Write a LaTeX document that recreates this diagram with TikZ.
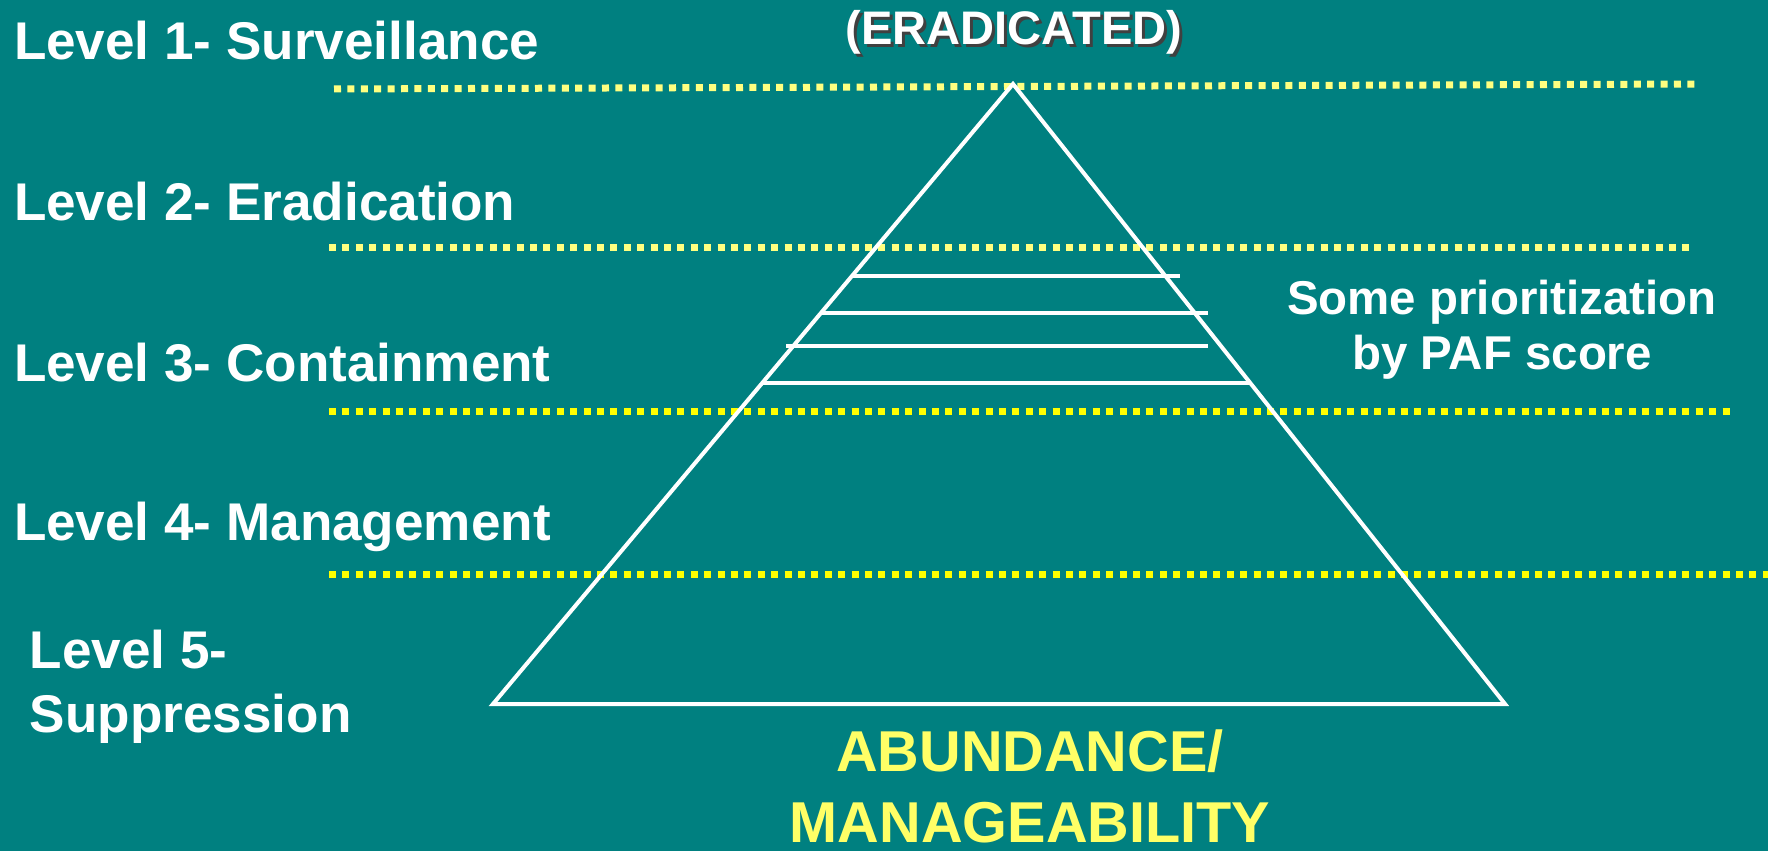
\documentclass[tikz,border=0pt]{standalone}
\usepackage{fontspec}
\setmainfont{Liberation Sans}
\usepackage{tikz}
\usetikzlibrary{positioning}
\definecolor{slidebg}{RGB}{0,128,128}
\definecolor{paleyellow}{RGB}{255,255,128}
\definecolor{dotyellow}{RGB}{255,255,0}
\definecolor{titleyellow}{RGB}{255,255,102}

\begin{document}
\begin{tikzpicture}[
    x=0.1mm, y=-0.1mm,
    every node/.style={inner sep=0pt, outer sep=0pt, text=white},
    levellabel/.style={anchor=base west, align=left,
        font=\fontsize{15.1}{18.2}\selectfont\bfseries},
    sidenote/.style={anchor=base, align=center,
        font=\fontsize{13.5}{15.4}\selectfont\bfseries},
    axislabel/.style={anchor=base, align=center, text=titleyellow,
        font=\fontsize{16.4}{20.2}\selectfont\bfseries},
    % dotted line between two levels
    levelsep/.style={line width=0.7mm, dash pattern=on 0.7mm off 0.64mm},
    pyrline/.style={draw=white, line width=0.4mm}
    ]
    % background of the slide
    \fill[slidebg] (0,0) rectangle (1768,851);
    \useasboundingbox (0,0) rectangle (1768,851);

    % level names on the left (base = last line)
    \node[levellabel] (lvl1) at (14,60) {Level 1- Surveillance};
    \node[levellabel] (lvl2) at (14,220) {Level 2- Eradication};
    \node[levellabel] (lvl3) at (14,381) {Level 3- Containment};
    \node[levellabel] (lvl4) at (14,540) {Level 4- Management};
    \node[levellabel] (lvl5) at (30,732) {Level 5-\\Suppression};

    % separators
    \draw[levelsep, paleyellow] (334,89) -- (1700,84);
    \draw[levelsep, paleyellow] (329,247) -- (1695,247);
    \draw[levelsep, dotyellow] (329,411) -- (1733,411);
    \draw[levelsep, dotyellow] (329,574) -- (1768,574);

    % pyramid
    \coordinate (apex) at (1013,84);
    \coordinate (botL) at (493,704);
    \coordinate (botR) at (1505,704);
    \draw[pyrline] (apex) -- (botL) -- (botR) -- cycle;

    % bars near the top of level 3
    \foreach \y/\xa/\xb in {276/853/1180, 313/820/1208, 346/786/1208, 383/762/1249}
        \draw[pyrline] (\xa,\y) -- (\xb,\y);

    % top label with its shadow
    \node[anchor=base, text=black!75, font=\fontsize{13.4}{16}\selectfont\bfseries]
        (erashadow) at (1017,48) {(ERADICATED)};
    \node[anchor=base, font=\fontsize{13.4}{16}\selectfont\bfseries]
        (eradicated) at (1014,45) {(ERADICATED)};

    \node[sidenote] (prio) at (1502,369) {Some prioritization\\by PAF score};

    \node[axislabel] (abund) at (1030,842) {ABUNDANCE/\\MANAGEABILITY};
\end{tikzpicture}
\end{document}
